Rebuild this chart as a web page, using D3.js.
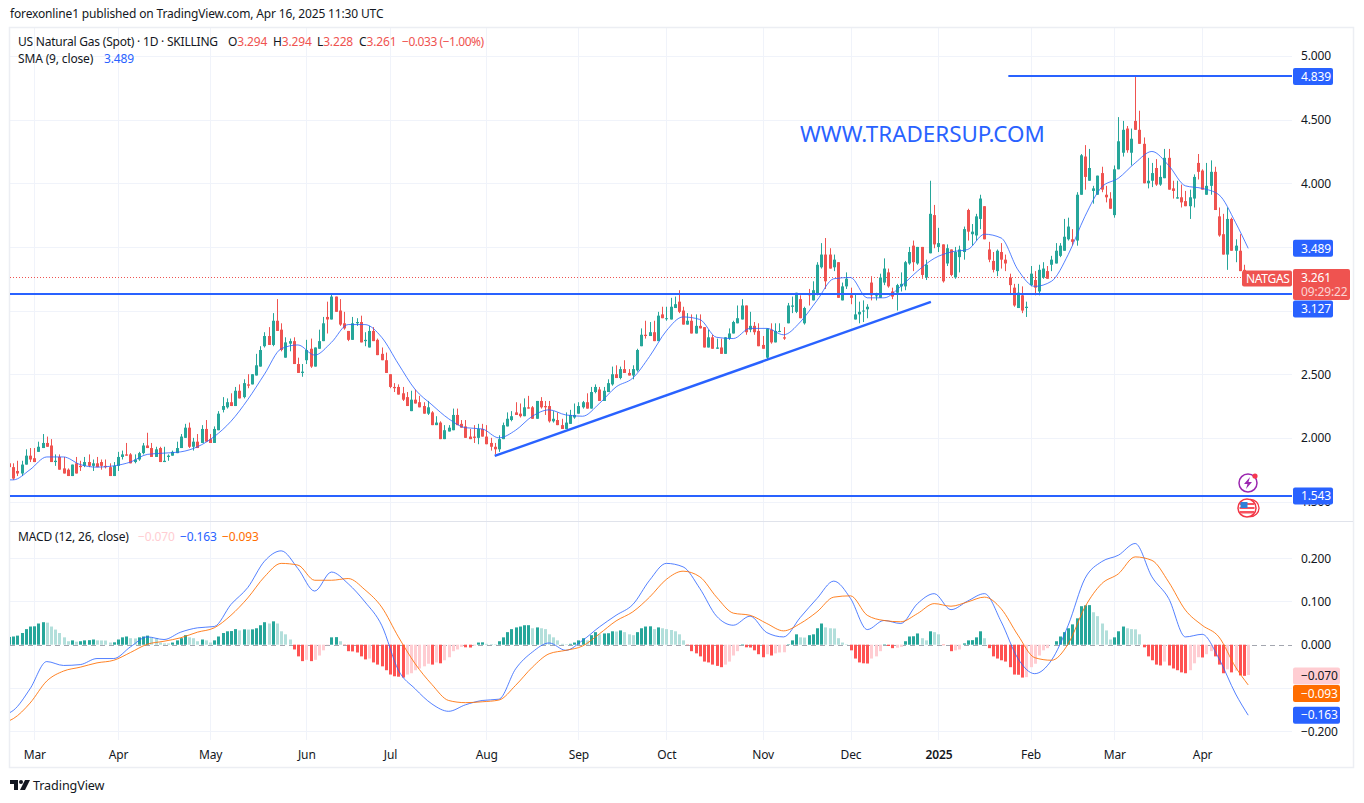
<!DOCTYPE html>
<html>
<head>
<meta charset="utf-8">
<title>US Natural Gas (Spot)</title>
<script src="https://d3js.org/d3.v7.min.js"></script>
<style>
  html, body { margin: 0; padding: 0; background: #fff; }
  svg { display: block; }
  text { font-family: "Noto Sans", sans-serif; font-size: 12px; fill: #131722; letter-spacing: -0.15px; }
</style>
</head>
<body>
<div id="container"></div>
<script>
// daily bars (first bar is the one cut by the left edge)
var opens = [1.80,
  1.77,1.74,1.72,1.79,1.86,1.84,1.89,1.92,1.96,1.94,
  1.81,1.85,1.76,1.75,1.70,1.80,1.78,1.78,1.81,1.78,
  1.80,1.81,1.78,1.77,1.70,1.78,1.85,1.87,1.87,1.81,
  1.83,1.88,1.94,1.92,1.85,1.92,1.81,1.85,1.86,1.88,
  1.92,2.00,2.08,1.93,1.97,1.96,2.07,1.99,1.96,2.06,
  2.22,2.24,2.28,2.25,2.37,2.32,2.42,2.42,2.49,2.56,
  2.72,2.80,2.73,2.92,2.85,2.63,2.74,2.76,2.58,2.51,
  2.61,2.70,2.56,2.70,2.76,2.95,2.93,3.11,3.00,2.90,
  2.84,2.77,2.90,2.91,2.76,2.71,2.84,2.77,2.66,2.61,
  2.50,2.40,2.40,2.35,2.32,2.21,2.30,2.28,2.25,2.19,
  2.20,2.10,2.12,1.99,2.05,2.06,2.18,2.11,2.09,2.01,
  2.01,2.00,2.07,2.01,1.96,1.93,1.91,1.99,2.09,2.14,
  2.20,2.19,2.17,2.24,2.24,2.15,2.29,2.25,2.25,2.13,
  2.14,2.10,2.07,2.11,2.16,2.19,2.24,2.28,2.23,2.36,
  2.38,2.29,2.36,2.42,2.50,2.47,2.54,2.51,2.49,2.53,
  2.72,2.81,2.80,2.83,2.76,2.97,2.94,2.93,3.02,3.07,
  3.00,2.89,2.92,2.82,2.88,2.87,2.71,2.79,2.70,2.71,
  2.66,2.78,2.82,2.90,2.93,3.04,2.85,2.88,2.84,2.73,
  2.63,2.85,2.75,2.84,2.79,2.90,3.03,2.99,3.09,2.90,
  3.13,3.08,3.13,3.34,3.44,3.44,3.34,3.38,3.08,3.19,
  3.12,2.93,2.97,3.00,3.01,3.22,3.12,3.10,3.22,3.30,
  3.15,3.14,3.19,3.19,3.37,3.51,3.37,3.50,3.26,3.45,
  3.75,3.50,3.52,3.37,3.48,3.26,3.42,3.46,3.79,3.60,
  3.59,3.72,3.82,3.48,3.39,3.31,3.46,3.40,3.26,3.18,
  3.02,3.12,3.02,3.20,3.24,3.15,3.26,3.31,3.36,3.37,
  3.43,3.47,3.56,3.56,3.55,3.91,4.21,4.02,3.94,3.91,
  4.08,3.91,3.88,3.75,4.11,4.24,4.43,4.24,4.49,4.42,
  4.31,4.00,4.02,4.12,3.99,4.04,4.20,3.96,3.88,3.89,
  3.86,3.82,3.88,4.16,4.10,3.91,3.98,4.09,3.74,3.60,
  3.44,3.72,3.47,3.47,3.32,3.29]
var highs = [1.82,
  1.80,1.82,1.82,1.91,1.92,1.92,1.97,2.03,2.01,1.99,
  1.87,1.87,1.85,1.76,1.79,1.85,1.82,1.85,1.87,1.83,
  1.85,1.83,1.83,1.80,1.81,1.89,1.90,1.96,1.88,1.87,
  1.89,1.96,2.04,1.96,1.93,1.93,1.93,1.87,1.90,1.97,
  2.03,2.11,2.12,2.00,2.03,2.10,2.14,2.03,2.09,2.21,
  2.32,2.31,2.35,2.40,2.42,2.46,2.50,2.50,2.66,2.72,
  2.83,2.87,2.98,3.09,2.90,2.79,2.78,2.79,2.63,2.58,
  2.77,2.78,2.71,2.85,2.95,3.07,3.13,3.11,3.09,2.99,
  2.84,2.95,2.94,2.96,2.83,2.88,2.87,2.78,2.71,2.67,
  2.50,2.43,2.42,2.40,2.36,2.37,2.38,2.33,2.28,2.29,
  2.21,2.17,2.13,2.10,2.10,2.23,2.23,2.14,2.14,2.07,
  2.10,2.11,2.11,2.10,2.00,1.96,2.02,2.12,2.20,2.21,
  2.28,2.27,2.31,2.33,2.25,2.29,2.32,2.29,2.29,2.21,
  2.20,2.15,2.20,2.22,2.27,2.28,2.29,2.35,2.40,2.42,
  2.40,2.40,2.46,2.56,2.57,2.56,2.61,2.54,2.57,2.70,
  2.86,2.92,2.91,2.92,2.99,3.03,3.03,3.10,3.11,3.16,
  3.03,2.98,2.97,2.97,2.97,2.87,2.85,2.81,2.78,2.78,
  2.79,2.86,2.92,3.04,3.09,3.04,2.99,2.91,2.90,2.80,
  2.86,2.90,2.90,2.90,2.87,3.06,3.11,3.14,3.12,3.03,
  3.17,3.23,3.38,3.53,3.57,3.49,3.44,3.38,3.22,3.30,
  3.18,3.13,3.07,3.08,3.05,3.27,3.14,3.29,3.41,3.33,
  3.18,3.21,3.30,3.39,3.50,3.55,3.50,3.50,3.40,4.02,
  3.83,3.65,3.52,3.52,3.48,3.50,3.51,3.66,3.80,3.68,
  3.76,3.91,3.82,3.54,3.46,3.48,3.53,3.44,3.29,3.21,
  3.21,3.19,3.07,3.35,3.31,3.36,3.38,3.35,3.43,3.53,
  3.53,3.72,3.73,3.64,3.93,4.23,4.30,4.27,3.98,4.06,
  4.13,3.98,3.93,4.14,4.52,4.49,4.45,4.43,4.839,4.57,
  4.36,4.20,4.16,4.19,4.14,4.27,4.27,4.02,4.02,3.99,
  3.94,3.95,4.07,4.23,4.11,4.16,4.18,4.13,3.81,3.76,
  3.81,3.73,3.56,3.60,3.36,3.29]
var lows = [1.76,
  1.67,1.70,1.70,1.79,1.81,1.81,1.89,1.92,1.93,1.81,
  1.78,1.75,1.72,1.70,1.70,1.72,1.74,1.77,1.77,1.74,
  1.77,1.75,1.76,1.70,1.70,1.74,1.83,1.86,1.80,1.80,
  1.82,1.87,1.92,1.85,1.85,1.81,1.81,1.82,1.86,1.88,
  1.92,2.00,1.92,1.90,1.92,1.96,1.97,1.96,1.96,2.06,
  2.20,2.23,2.25,2.25,2.31,2.31,2.39,2.42,2.49,2.56,
  2.71,2.73,2.72,2.84,2.68,2.63,2.68,2.58,2.51,2.48,
  2.58,2.55,2.56,2.70,2.76,2.82,2.93,2.99,2.88,2.85,
  2.76,2.77,2.88,2.75,2.72,2.71,2.76,2.65,2.61,2.51,
  2.39,2.36,2.34,2.29,2.25,2.21,2.27,2.24,2.19,2.18,
  2.10,2.10,1.99,1.99,2.05,2.06,2.10,2.08,2.00,1.99,
  1.96,1.95,2.01,1.95,1.90,1.87,1.89,1.99,2.09,2.13,
  2.18,2.16,2.17,2.23,2.15,2.15,2.23,2.18,2.12,2.12,
  2.10,2.07,2.07,2.11,2.15,2.19,2.23,2.23,2.23,2.35,
  2.29,2.29,2.36,2.41,2.47,2.46,2.51,2.49,2.46,2.52,
  2.72,2.78,2.80,2.76,2.76,2.94,2.92,2.93,3.02,2.98,
  2.89,2.89,2.82,2.82,2.86,2.71,2.71,2.70,2.70,2.66,
  2.66,2.77,2.82,2.90,2.93,2.81,2.83,2.81,2.72,2.70,
  2.61,2.74,2.75,2.83,2.77,2.90,2.98,2.98,2.94,2.89,
  3.04,3.08,3.12,3.33,3.17,3.33,3.31,3.10,3.08,3.17,
  3.05,2.93,2.90,2.91,2.94,3.08,3.08,3.10,3.20,3.18,
  3.09,3.00,3.15,3.16,3.36,3.31,3.36,3.25,3.24,3.45,
  3.49,3.46,3.22,3.35,3.27,3.25,3.30,3.40,3.55,3.51,
  3.55,3.64,3.56,3.38,3.30,3.27,3.33,3.31,3.13,3.03,
  3.02,2.98,2.95,3.19,3.12,3.12,3.25,3.25,3.31,3.37,
  3.42,3.47,3.55,3.51,3.51,3.91,3.95,4.02,3.84,3.91,
  3.93,3.85,3.80,3.73,4.11,4.21,4.24,4.14,4.42,4.31,
  4.00,3.96,3.97,3.98,3.98,4.04,3.95,3.88,3.88,3.81,
  3.82,3.72,3.81,4.03,3.95,3.91,3.91,3.79,3.58,3.44,
  3.32,3.47,3.38,3.31,3.27,3.23]
var closes = [1.77,
  1.68,1.72,1.79,1.86,1.83,1.81,1.93,1.96,1.93,1.81,
  1.82,1.75,1.72,1.70,1.79,1.72,1.77,1.81,1.78,1.80,
  1.77,1.78,1.77,1.70,1.78,1.85,1.87,1.86,1.80,1.83,
  1.88,1.94,1.92,1.85,1.91,1.81,1.82,1.86,1.89,1.92,
  2.01,2.08,1.93,1.97,1.92,2.07,1.97,1.96,2.07,2.19,
  2.25,2.28,2.25,2.37,2.31,2.43,2.41,2.50,2.57,2.69,
  2.80,2.73,2.92,2.84,2.69,2.75,2.76,2.58,2.51,2.52,
  2.69,2.56,2.71,2.76,2.90,2.93,3.11,2.99,2.89,2.86,
  2.77,2.90,2.91,2.75,2.77,2.84,2.76,2.65,2.61,2.51,
  2.40,2.39,2.34,2.30,2.25,2.30,2.27,2.24,2.19,2.24,
  2.10,2.12,1.99,2.06,2.08,2.18,2.10,2.08,2.00,1.99,
  2.00,2.07,2.01,1.95,1.93,1.91,1.99,2.10,2.15,2.17,
  2.18,2.17,2.24,2.23,2.15,2.29,2.24,2.24,2.13,2.15,
  2.10,2.07,2.12,2.18,2.18,2.25,2.28,2.23,2.36,2.40,
  2.29,2.37,2.43,2.50,2.47,2.54,2.51,2.49,2.54,2.69,
  2.81,2.80,2.83,2.76,2.96,2.94,2.94,3.03,3.05,2.99,
  2.89,2.92,2.82,2.88,2.86,2.71,2.79,2.70,2.71,2.66,
  2.79,2.82,2.91,2.94,3.04,2.83,2.88,2.83,2.72,2.70,
  2.86,2.75,2.84,2.84,2.78,3.04,3.04,3.14,2.94,3.02,
  3.12,3.16,3.36,3.44,3.23,3.33,3.40,3.10,3.19,3.25,
  3.10,2.97,2.99,3.00,3.03,3.12,3.12,3.26,3.33,3.19,
  3.11,3.20,3.21,3.38,3.46,3.38,3.50,3.28,3.36,3.76,
  3.52,3.53,3.23,3.49,3.28,3.46,3.48,3.64,3.62,3.62,
  3.74,3.88,3.56,3.40,3.32,3.47,3.40,3.37,3.20,3.04,
  3.14,3.00,3.03,3.29,3.18,3.32,3.33,3.25,3.40,3.47,
  3.51,3.58,3.66,3.54,3.91,4.22,4.05,4.12,3.96,4.06,
  3.95,3.89,3.80,4.11,4.33,4.42,4.26,4.35,4.42,4.31,
  4.00,4.02,4.08,3.99,4.05,4.20,3.95,3.94,3.89,3.85,
  3.82,3.89,4.05,4.09,3.95,3.98,4.09,3.79,3.59,3.44,
  3.72,3.47,3.51,3.31,3.29,3.26]

// MACD histogram, one value per bar
var hist = [0.018,
  0.019,0.021,0.027,0.036,0.042,0.0425,0.049,0.052,0.051,0.042,
  0.035,0.027,0.017,0.008,0.010,0.007,0.008,0.010,0.0105,0.012,
  0.010,0.0098,0.0096,0.005,0.0055,0.012,0.017,0.019,0.015,0.0145,
  0.017,0.019,0.021,0.017,0.015,0.005,0.003,0.0028,0.005,0.010,
  0.015,0.022,0.017,0.015,0.008,0.012,0.010,0.005,0.010,0.019,
  0.027,0.031,0.0315,0.036,0.033,0.0355,0.035,0.0355,0.038,0.045,
  0.052,0.049,0.054,0.049,0.031,0.024,0.012,-0.011,-0.027,-0.038,
  -0.035,-0.038,-0.035,-0.025,-0.013,-0.001,0.017,0.0175,0.008,-0.001,
  -0.015,-0.0155,-0.018,-0.027,-0.034,-0.032,-0.041,-0.046,-0.050,-0.059,
  -0.069,-0.073,-0.074,-0.076,-0.069,-0.066,-0.059,-0.055,-0.050,-0.044,
  -0.046,-0.041,-0.043,-0.036,-0.029,-0.015,-0.011,-0.005,-0.006,-0.0065,
  -0.002,0.005,0.0055,0.002,0.0015,0.001,0.008,0.017,0.029,0.036,
  0.040,0.042,0.045,0.0451,0.038,0.040,0.038,0.036,0.024,0.017,
  0.010,0.002,0.001,0.002,0.005,0.010,0.015,0.010,0.022,0.029,
  0.024,0.026,0.0265,0.031,0.0305,0.033,0.029,0.024,0.022,0.029,
  0.038,0.042,0.0425,0.036,0.040,0.038,0.036,0.034,0.031,0.024,
  0.010,-0.001,-0.015,-0.020,-0.027,-0.039,-0.041,-0.046,-0.049,-0.052,
  -0.046,-0.039,-0.025,-0.015,0.001,-0.006,-0.0065,-0.013,-0.022,-0.029,
  -0.022,-0.025,-0.020,-0.018,-0.0175,0.001,0.010,0.024,0.017,0.0165,
  0.022,0.024,0.038,0.049,0.040,0.038,0.0375,0.015,0.005,0.001,
  -0.013,-0.032,-0.041,-0.043,-0.0435,-0.032,-0.027,-0.015,0.001,-0.003,
  -0.008,-0.007,-0.005,0.008,0.019,0.0195,0.026,0.015,0.010,0.031,
  0.029,0.024,-0.001,0.000,-0.015,-0.013,-0.011,0.003,0.010,0.0105,
  0.017,0.031,0.015,-0.008,-0.027,-0.032,-0.036,-0.039,-0.052,-0.069,
  -0.0695,-0.076,-0.075,-0.052,-0.044,-0.025,-0.013,-0.008,0.000,0.008,
  0.019,0.029,0.038,0.047,0.061,0.089,0.091,0.0915,0.075,0.066,
  0.049,0.033,0.012,0.017,0.031,0.042,0.038,0.036,0.0355,0.024,
  -0.006,-0.027,-0.036,-0.046,-0.048,-0.039,-0.048,-0.055,-0.059,-0.064,
  -0.066,-0.059,-0.043,-0.029,-0.0295,-0.022,-0.015,-0.027,-0.046,-0.066,
  -0.057,-0.064,-0.060,-0.071,-0.072,-0.070]

// line readings, taken every 4th bar plus the cut first bar and the last bar
var lineBars = [0].concat(d3.range(1, 297, 4), [296])
var smaValues = [1.67,
  1.67,1.75,1.85,1.85,1.79,1.77,1.78,1.81,1.87,1.88,1.89,1.93,2.01,2.13,2.30,2.50,2.70,2.73,2.65,2.75,
  2.89,2.89,2.79,2.58,2.38,2.26,2.15,2.08,2.07,2.00,2.06,2.17,2.22,2.18,2.17,2.27,2.40,2.47,2.64,2.84,
  2.95,2.93,2.79,2.78,2.86,2.86,2.81,2.91,3.08,3.25,3.26,3.10,3.10,3.19,3.31,3.41,3.46,3.48,3.60,3.57,
  3.32,3.19,3.23,3.44,3.74,3.97,4.04,4.16,4.25,4.14,3.98,3.96,3.91,3.69,3.489]
var macdValues = [-0.158,
  -0.152,-0.102,-0.039,-0.048,-0.046,-0.032,-0.032,-0.005,0.018,0.012,0.029,0.039,0.042,0.093,0.132,0.193,0.217,0.176,0.124,0.168,
  0.141,0.099,0.045,-0.059,-0.102,-0.137,-0.154,-0.139,-0.129,-0.126,-0.056,-0.017,0.004,-0.013,0.010,0.041,0.068,0.093,0.149,0.188,
  0.180,0.130,0.066,0.045,0.066,0.028,0.018,0.063,0.107,0.147,0.107,0.035,0.056,0.049,0.095,0.118,0.081,0.101,0.118,0.053,
  -0.032,-0.067,-0.036,0.045,0.153,0.192,0.207,0.234,0.157,0.107,0.018,0.024,-0.032,-0.114,-0.163]
var signalValues = [-0.176,
  -0.171,-0.135,-0.084,-0.061,-0.052,-0.042,-0.036,-0.018,0.001,0.008,0.016,0.029,0.039,0.068,0.108,0.157,0.188,0.184,0.149,0.149,
  0.153,0.127,0.087,0.018,-0.044,-0.092,-0.129,-0.134,-0.132,-0.128,-0.094,-0.052,-0.021,-0.013,-0.003,0.025,0.055,0.076,0.110,0.151,
  0.170,0.157,0.110,0.073,0.068,0.049,0.032,0.049,0.076,0.110,0.113,0.068,0.056,0.053,0.072,0.095,0.089,0.099,0.110,0.083,
  0.022,-0.030,-0.036,0.002,0.087,0.141,0.164,0.203,0.195,0.145,0.080,0.045,0.018,-0.052,-0.093]

var monthBars = [6,26,48,71,91,114,136,157,180,201,222,244,264,285]
var monthLabels = ["Mar","Apr","May","Jun","Jul","Aug","Sep","Oct","Nov","Dec","2025","Feb","Mar","Apr"]
var priceTicks = [5,4.5,4,3.5,3,2.5,2,1.5]
var macdGrid = [0.2,0.1,-0.1,-0.2]
var macdTicks = [0.2,0.1,0,-0.2]

var TEAL = "#26a69a", RED = "#ef5350", BLUE = "#2962ff", ORANGE = "#ff6d00", GRID = "#f0f3fa"
var right = 1292

var svg = d3.select("#container").append("svg").attr("width", 1364).attr("height", 803)
svg.append("rect").attr("width", 1364).attr("height", 803).attr("fill", "#fff")

var defs = svg.append("defs")
defs.append("clipPath").attr("id", "mainClip").append("rect").attr("x", 10).attr("y", 28).attr("width", right - 10).attr("height", 493)
defs.append("clipPath").attr("id", "macdClip").append("rect").attr("x", 10).attr("y", 522).attr("width", right - 10).attr("height", 218)

var x = d3.scaleLinear().domain([0, opens.length - 1]).range([9.1, 1248.2])
var y = d3.scaleLinear().domain([5, 1.5]).range([56, 501.5])
var ym = d3.scaleLinear().domain([0.2, -0.2]).range([558.2, 731.2])

// grid
var grid = svg.append("g")
grid.selectAll(".v").data(monthBars).enter().append("line")
  .attr("x1", function(d){ return Math.round(x(d)) + .5 }).attr("x2", function(d){ return Math.round(x(d)) + .5 })
  .attr("y1", 28).attr("y2", 740).attr("stroke", GRID)
grid.selectAll(".h").data(priceTicks).enter().append("line")
  .attr("x1", 10).attr("x2", right)
  .attr("y1", function(d){ return Math.round(y(d)) + .5 }).attr("y2", function(d){ return Math.round(y(d)) + .5 })
  .attr("stroke", GRID)
grid.selectAll(".m").data(macdGrid).enter().append("line")
  .attr("x1", 10).attr("x2", right)
  .attr("y1", function(d){ return Math.round(ym(d)) + .5 }).attr("y2", function(d){ return Math.round(ym(d)) + .5 })
  .attr("stroke", GRID)

// frame
svg.append("rect").attr("x", 9.5).attr("y", 27.5).attr("width", 1344).attr("height", 740)
  .attr("fill", "none").attr("stroke", "#eceef3").attr("stroke-width", 1.5)
svg.append("line").attr("x1", 10).attr("x2", 1353).attr("y1", 521.5).attr("y2", 521.5).attr("stroke", "#e0e3eb")

// price pane
var main = svg.append("g").attr("clip-path", "url(#mainClip)")

main.append("line").attr("x1", 10).attr("x2", right)
  .attr("y1", Math.round(y(closes[296])) + .5).attr("y2", Math.round(y(closes[296])) + .5)
  .attr("stroke", RED).attr("stroke-dasharray", "1 2")

var bars = main.selectAll(".bar").data(opens).enter().append("g")
bars.append("rect")
  .attr("x", function(d, i){ return Math.round(x(i)) })
  .attr("width", 1)
  .attr("y", function(d, i){ return y(highs[i]) })
  .attr("height", function(d, i){ return y(lows[i]) - y(highs[i]) })
  .attr("fill", function(d, i){ return closes[i] >= d ? TEAL : RED })
bars.append("rect")
  .attr("x", function(d, i){ return Math.round(x(i)) - 1 })
  .attr("width", 3)
  .attr("y", function(d, i){ return y(Math.max(d, closes[i])) })
  .attr("height", function(d, i){ return Math.max(1, Math.abs(y(d) - y(closes[i]))) })
  .attr("fill", function(d, i){ return closes[i] >= d ? TEAL : RED })

var lineOf = function(yScale) {
  return d3.line()
    .x(function(d){ return x(d.bar) })
    .y(function(d){ return yScale(d.value) })
    .curve(d3.curveMonotoneX)
}
var zipLine = function(values) {
  return values.map(function(v, i){ return { bar: lineBars[i], value: v } })
}

main.append("path").attr("d", lineOf(y)(zipLine(smaValues)))
  .attr("fill", "none").attr("stroke", BLUE).attr("stroke-width", 1).attr("stroke-opacity", .8)

// drawn levels and the trend line
var levels = [
  { bar0: 0, bar1: 320, price: 3.127 },
  { bar0: 0, bar1: 320, price: 1.543 },
  { bar0: 238.7, bar1: 320, price: 4.839 }
]
main.selectAll(".level").data(levels).enter().append("line")
  .attr("x1", function(d){ return x(d.bar0) }).attr("x2", function(d){ return x(d.bar1) })
  .attr("y1", function(d){ return Math.floor(y(d.price)) }).attr("y2", function(d){ return Math.floor(y(d.price)) })
  .attr("stroke", BLUE).attr("stroke-width", 2)
main.append("line")
  .attr("x1", x(116)).attr("x2", x(220.2))
  .attr("y1", y(1.858)).attr("y2", y(3.068))
  .attr("stroke", BLUE).attr("stroke-width", 2.5)

svg.append("text").attr("x", 800).attr("y", 142).text("WWW.TRADERSUP.COM")
  .style("font-size", "22.4px").style("fill", BLUE).style("letter-spacing", "0")

// macd pane
var macdPane = svg.append("g").attr("clip-path", "url(#macdClip)")
macdPane.append("line").attr("x1", 10).attr("x2", right)
  .attr("y1", Math.round(ym(0)) + .5).attr("y2", Math.round(ym(0)) + .5)
  .attr("stroke", "#a3a6af").attr("stroke-dasharray", "5 4")
macdPane.selectAll(".h").data(hist).enter().append("rect")
  .attr("x", function(d, i){ return Math.round(x(i)) - 1 })
  .attr("width", 3)
  .attr("y", function(d){ return d >= 0 ? ym(d) : ym(0) })
  .attr("height", function(d){ return Math.abs(ym(d) - ym(0)) })
  .attr("fill", function(d, i){
    var prev = i ? hist[i - 1] : d
    if (d >= 0) return d >= prev ? TEAL : "#b2dfdb"
    return d <= prev ? "#ff5252" : "#ffcdd2"
  })
macdPane.append("path").attr("d", lineOf(ym)(zipLine(macdValues)))
  .attr("fill", "none").attr("stroke", BLUE).attr("stroke-width", 1).attr("stroke-opacity", .8)
macdPane.append("path").attr("d", lineOf(ym)(zipLine(signalValues)))
  .attr("fill", "none").attr("stroke", ORANGE).attr("stroke-width", 1).attr("stroke-opacity", .85)

// axes
var noLine = function(g) { g.select(".domain").remove(); g.selectAll(".tick line").remove() }

svg.append("g").attr("transform", "translate(1301,0)")
  .call(d3.axisRight(y).tickValues(priceTicks).tickFormat(d3.format(".3f")).tickSize(0).tickPadding(0))
  .call(noLine)
svg.append("g").attr("transform", "translate(1301,0)")
  .call(d3.axisRight(ym).tickValues(macdTicks).tickFormat(d3.format(".3f")).tickSize(0).tickPadding(0))
  .call(noLine)
svg.append("g").attr("transform", "translate(0,750)")
  .call(d3.axisBottom(x).tickValues(monthBars)
    .tickFormat(function(d){ return monthLabels[monthBars.indexOf(d)] }).tickSize(0).tickPadding(0))
  .call(noLine)
  .selectAll("text").style("font-weight", function(d){ return d === 222 ? 600 : 400 })

// value tags on the price axis
var tags = [
  { text: "4.839", y: y(4.839), fill: BLUE, color: "#fff", w: 40 },
  { text: "3.489", y: y(3.489), fill: BLUE, color: "#fff", w: 40 },
  { text: "3.127", y: y(3.127) + 14.5, fill: BLUE, color: "#fff", w: 40 },
  { text: "1.543", y: y(1.543), fill: BLUE, color: "#fff", w: 40 },
  { text: "\u22120.070", y: ym(-0.070) + 1, fill: "#ffcdd2", color: "#131722", w: 47 },
  { text: "\u22120.093", y: ym(-0.093) + 8.5, fill: ORANGE, color: "#fff", w: 47 },
  { text: "\u22120.163", y: ym(-0.163), fill: BLUE, color: "#fff", w: 47 }
]
var tagG = svg.selectAll(".tag").data(tags).enter().append("g")
tagG.append("rect").attr("x", 1293).attr("width", function(d){ return d.w })
  .attr("y", function(d){ return d.y - 8.5 }).attr("height", 17).attr("rx", 2).attr("fill", function(d){ return d.fill })
tagG.append("text").attr("x", 1301).attr("y", function(d){ return d.y + 4.3 }).text(function(d){ return d.text })
  .style("fill", function(d){ return d.color })

svg.append("rect").attr("x", 1293).attr("y", 269).attr("width", 57).attr("height", 31).attr("rx", 2).attr("fill", RED)
svg.append("text").attr("x", 1301).attr("y", 282).text("3.261").style("fill", "#fff")
svg.append("text").attr("x", 1301).attr("y", 296).text("09:29:22").style("fill", "#fff").style("fill-opacity", .75)
svg.append("rect").attr("x", 1242).attr("y", 270.5).attr("width", 50).attr("height", 16).attr("rx", 2).attr("fill", RED)
svg.append("text").attr("x", 1246).attr("y", 282.5).text("NATGAS").style("fill", "#fff").style("letter-spacing", "-0.3px")

// event icons
var bolt = svg.append("g").attr("transform", "translate(1248,483)")
bolt.append("circle").attr("r", 9).attr("fill", "#fff").attr("stroke", "#9c27b0").attr("stroke-width", 1.5)
bolt.append("path").attr("d", "M2,-6 L-4,1 L-0.5,1 L-2,6 L4,-1 L0.5,-1 Z").attr("fill", "#9c27b0")
bolt.append("circle").attr("cx", 7).attr("cy", -7).attr("r", 2.6).attr("fill", "#f7374f")
var flag = svg.append("g").attr("transform", "translate(1247,508)")
flag.append("circle").attr("cx", 3.5).attr("r", 8.5).attr("fill", "#fff").attr("stroke", "#f23645").attr("stroke-width", 1.3)
flag.append("circle").attr("r", 9).attr("fill", "#fff").attr("stroke", "#f23645").attr("stroke-width", 1.5)
flag.append("rect").attr("x", -7).attr("y", -5).attr("width", 14).attr("height", 2).attr("fill", "#f7525f")
flag.append("rect").attr("x", -7.5).attr("y", -1).attr("width", 15).attr("height", 2).attr("fill", "#f7525f")
flag.append("rect").attr("x", -7).attr("y", 3).attr("width", 14).attr("height", 2.5).attr("fill", "#f7525f")
flag.append("rect").attr("x", -6.5).attr("y", -6).attr("width", 7).attr("height", 6).attr("fill", "#2f80d8")

// header and legends
svg.append("text").attr("x", 10).attr("y", 18).text("forexonline1 published on TradingView.com, Apr 16, 2025 11:30 UTC")
svg.append("text").attr("x", 18).attr("y", 46).text("US Natural Gas (Spot) \u00b7 1D \u00b7 SKILLING").style("letter-spacing", "-0.22px")

var ohlc = [["O", "3.294", 228], ["H", "3.294", 273], ["L", "3.228", 317], ["C", "3.261", 359]]
ohlc.forEach(function(d) {
  var t = svg.append("text").attr("x", d[2]).attr("y", 46)
  t.append("tspan").text(d[0])
  t.append("tspan").text(d[1]).style("fill", RED)
})
svg.append("text").attr("x", 402).attr("y", 46).text("\u22120.033 (\u22121.00%)").style("fill", RED).style("letter-spacing", "-0.45px")

svg.append("text").attr("x", 18).attr("y", 63).text("SMA (9, close)")
svg.append("text").attr("x", 104).attr("y", 63).text("3.489").style("fill", BLUE)

svg.append("text").attr("x", 18).attr("y", 541).text("MACD (12, 26, close)")
svg.append("text").attr("x", 138).attr("y", 541).text("\u22120.070").style("fill", "#ffcdd2")
svg.append("text").attr("x", 180).attr("y", 541).text("\u22120.163").style("fill", BLUE)
svg.append("text").attr("x", 222).attr("y", 541).text("\u22120.093").style("fill", ORANGE)

// logo
var logo = svg.append("g").attr("transform", "translate(10,780)").attr("fill", "#131722")
logo.append("path").attr("d", "M0,0 H8 V10 H4 V4 H0 Z")
logo.append("circle").attr("cx", 11).attr("cy", 2).attr("r", 2)
logo.append("path").attr("d", "M15,0 H20 L15,10 H10 Z")
svg.append("text").attr("x", 33).attr("y", 790).text("TradingView").style("font-size", "12.6px").style("letter-spacing", "-0.1px")
</script>
</body>
</html>
